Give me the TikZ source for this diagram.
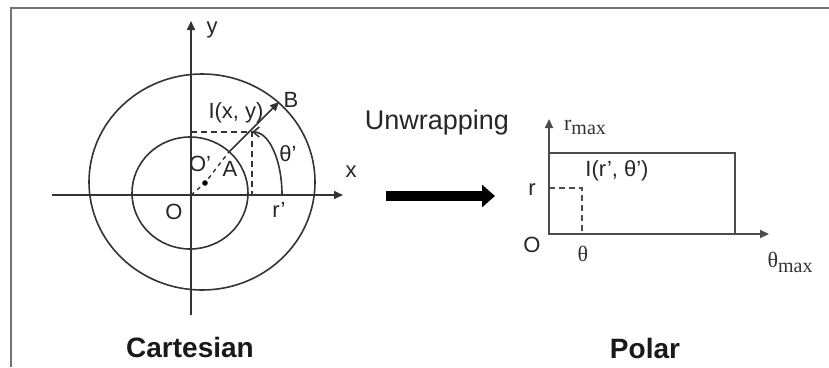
\documentclass[tikz,border=0pt]{standalone}
\usepackage{fontspec}
\setmainfont{Liberation Sans}
\newfontfamily\seriffam{Liberation Serif}
\usetikzlibrary{arrows.meta}
\begin{document}
\begin{tikzpicture}[x=1pt,y=-1pt,
  ln/.style={line width=1.6pt, draw=black!80},
  pl/.style={line width=2pt, draw=black!70},
  dsh/.style={line width=1.6pt, draw=black!80, dash pattern=on 6pt off 4pt},
  lbl/.style={inner sep=0pt, text=black!85, font=\fontsize{22}{22}\selectfont},
  ttl/.style={inner sep=0pt, text=black!90, font=\fontsize{28}{28}\selectfont\bfseries},
  sm/.style={inner sep=0pt, text=black!80, font=\fontsize{22}{22}\selectfont\seriffam},
  tip/.style={-{Triangle[length=9pt,width=8pt]}}
]
\useasboundingbox (0,0) rectangle (829,367);
\draw[line width=1.5pt, draw=black!55] (11,367) -- (11,8) -- (829,8);
% Cartesian
\coordinate (O) at (191,195);
\coordinate (Xl) at (52,195);
\coordinate (Xr) at (343,195);
\coordinate (Yb) at (191,315);
\coordinate (Yt) at (191,21);
\draw[ln,tip] (Xl) -- (Xr);
\draw[ln,tip] (Yb) -- (Yt);
\draw[ln] (190,193) ellipse [x radius=58, y radius=56];
\draw[ln] (202,182) ellipse [x radius=113, y radius=108];
\coordinate (A) at (228,153);
\coordinate (I) at (252,132);
\coordinate (Bt) at (279,102);
\coordinate (Op) at (205,183);
\coordinate (Iy) at (191,132);
\coordinate (Ix) at (252,195);
\coordinate (Rp) at (282,195);
\draw[ln,tip] (A) -- (Bt);
\draw[dsh] (Iy) -- (I) -- (Ix);
\draw[ln,-{Straight Barb[length=6pt,width=10pt]}] (Rp) .. controls (282,160) and (269,132) .. (I);
\draw[line width=1.3pt, draw=black!85, dash pattern=on 4pt off 4pt] (O) -- (Op) -- (A);
\fill[black] (Op) circle[radius=2.8pt];
\node[lbl] (ly) at (212,30) {y};
\node[lbl] (lx) at (351,172) {x};
\node[lbl] (lB) at (291,100) {B};
\node[lbl] (lI) at (236,113) {I(x, y)};
\node[lbl] (lth) at (288,154) {θ’};
\node[lbl] (lOp) at (200,164) {O’};
\node[lbl] (lA) at (230,169) {A};
\node[lbl] (lO) at (174,212) {O};
\node[lbl] (lr) at (279,210) {r’};
\node[ttl] (cart) at (190,347) {Cartesian};
% arrow
\node[inner sep=0pt, text=black!85, font=\fontsize{27}{27}\selectfont] (unw) at (437,123) {Unwrapping};
\coordinate (Wa) at (386,196);
\coordinate (Wb) at (495,196);
\draw[line width=10pt, black, -{Triangle[length=13pt,width=22pt]}] (Wa) -- (Wb);
% Polar
\coordinate (P) at (549,234);
\coordinate (Pt) at (549,119);
\coordinate (Pr) at (769,234);
\draw[pl,tip] (P) -- (Pt);
\draw[pl,tip] (P) -- (Pr);
\draw[pl] (549,153) rectangle (735,234);
\coordinate (Rr) at (549,188);
\coordinate (Rc) at (582,188);
\coordinate (Rt) at (582,234);
\draw[dsh, draw=black!70] (Rr) -- (Rc) -- (Rt);
\node[sm] (rmax) at (585,127) {r\raisebox{-4pt}{\fontsize{20}{20}\selectfont max}};
\node[lbl] (Irt) at (617,171) {I(r’, θ’)};
\node[lbl] (lr2) at (532,190) {r};
\node[lbl] (lO2) at (532,245) {O};
\node[sm] (lth2) at (583,254) {θ};
\node[sm] (lthm) at (790,262) {θ\raisebox{-5pt}{\fontsize{20}{20}\selectfont max}};
\node[ttl] (polar) at (645,348) {Polar};
\end{tikzpicture}
\end{document}
